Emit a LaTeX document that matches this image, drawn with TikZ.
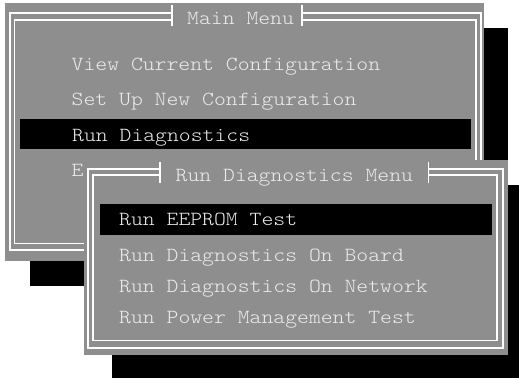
\documentclass[tikz,border=0pt]{standalone}
\usepackage{fontspec}
\newfontfamily\menufont[FakeStretch=1.13]{Latin Modern Mono Light}
\definecolor{menugray}{RGB}{142,142,142}
\definecolor{menutext}{RGB}{236,236,236}
\tikzset{
  shadowbox/.style={fill=black,draw=none},
  panelbox/.style={fill=menugray,draw=none},
  barbox/.style={fill=black,draw=none},
  frameline/.style={draw=white,line width=1.8pt,miter limit=10},
  menuitem/.style={anchor=base west,inner sep=0pt,text=menutext,font=\menufont\fontsize{20}{24}\selectfont},
}
\begin{document}
\begin{tikzpicture}[x=1pt,y=-1pt]
\useasboundingbox (0,0) rectangle (519,378);
\fill[white] (0,0) rectangle (519,378);
% main menu
\path[shadowbox] (30,28) rectangle (508.3,286);
\path[panelbox] (5,3) rectangle (483.7,260.7);
\draw[frameline] (172,13) -- (10,13) -- (10,250) -- (481,250) -- (481,13) -- (302,13);
\draw[frameline] (172,20) -- (14.5,20) -- (14.5,243.5) -- (476,243.5) -- (476,20) -- (302,20);
\draw[frameline] (172,5) -- (172,26);
\draw[frameline] (302,5) -- (302,26);
\path[barbox] (20,119.3) rectangle (470.7,149.3);
\node[menuitem] (mtitle) at (187,24) {Main Menu};
\node[menuitem] (m1) at (71.5,70.7) {View Current Configuration};
\node[menuitem] (m2) at (71.5,105) {Set Up New Configuration};
\node[menuitem] (m3) at (72,141.7) {Run Diagnostics};
\node[menuitem] (m4) at (71.5,176) {E};
% diagnostics menu
\path[shadowbox] (112,185) rectangle (519,378);
\path[panelbox] (84,159.5) rectangle (508.3,355);
\draw[frameline] (160,169.3) -- (87.7,169.3) -- (87.7,348.2) -- (502.7,348.2) -- (502.7,169.3) -- (428.5,169.3);
\draw[frameline] (160,175.3) -- (93.3,175.3) -- (93.3,340.5) -- (496.7,340.5) -- (496.7,175.3) -- (428.5,175.3);
\draw[frameline] (160,161.5) -- (160,182.5);
\draw[frameline] (428.5,161.5) -- (428.5,182.5);
\path[barbox] (100,204.3) rectangle (491.7,235);
\node[menuitem] (dtitle) at (175.5,181) {Run Diagnostics Menu};
\node[menuitem] (d1) at (119,225) {Run EEPROM Test};
\node[menuitem] (d2) at (119,261.7) {Run Diagnostics On Board};
\node[menuitem] (d3) at (119,292.7) {Run Diagnostics On Network};
\node[menuitem] (d4) at (119,323) {Run Power Management Test};
\end{tikzpicture}
\end{document}
